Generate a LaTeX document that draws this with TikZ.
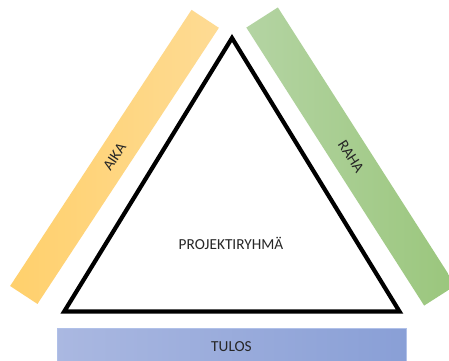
\documentclass[tikz,border=0pt]{standalone}
\usepackage{fontspec}
\setmainfont{Carlito}
\definecolor{txt}{RGB}{38,38,38}
\definecolor{aikaLight}{RGB}{254,219,148}
\definecolor{aikaDark}{RGB}{255,208,108}
\definecolor{rahaLight}{RGB}{180,212,163}
\definecolor{rahaDark}{RGB}{154,198,124}
\definecolor{tulosLight}{RGB}{170,184,225}
\definecolor{tulosDark}{RGB}{137,159,214}
\definecolor{tulosEdge}{RGB}{176,192,232}
\begin{document}
\begin{tikzpicture}[x=1pt,y=-1pt,
  band/.style={rectangle, inner sep=0pt, text=txt,
    font=\fontsize{15.3}{18}\selectfont},
  label/.style={text=txt, font=\fontsize{15.3}{18}\selectfont}]
\clip (0,0) rectangle (449,360);
\fill[white] (0,0) rectangle (449,360);

% the three constraint bands
\node[band, minimum width=330.4pt, minimum height=32.7pt, rotate=56.7,
  left color=aikaDark, right color=aikaLight] (aika) at (114.5,156.9) {AIKA};
\node[band, minimum width=330pt, minimum height=37.4pt, rotate=-57.4,
  left color=rahaLight, right color=rahaDark] (raha) at (351,156.5) {RAHA};
\node[band, minimum width=349pt, minimum height=38pt,
  left color=tulosLight, right color=tulosDark, draw=tulosEdge, line width=0.6pt]
  (tulos) at (231.5,347) {TULOS};

% the project team triangle
\coordinate (apex) at (232,38);
\coordinate (bl) at (64.2,311.5);
\coordinate (br) at (399.5,311.5);
\draw[line width=4.2pt, line join=miter] (apex) -- (bl) -- (br) -- cycle;
\node[label, anchor=base] (team) at (231,249) {PROJEKTIRYHMÄ};
\end{tikzpicture}
\end{document}
